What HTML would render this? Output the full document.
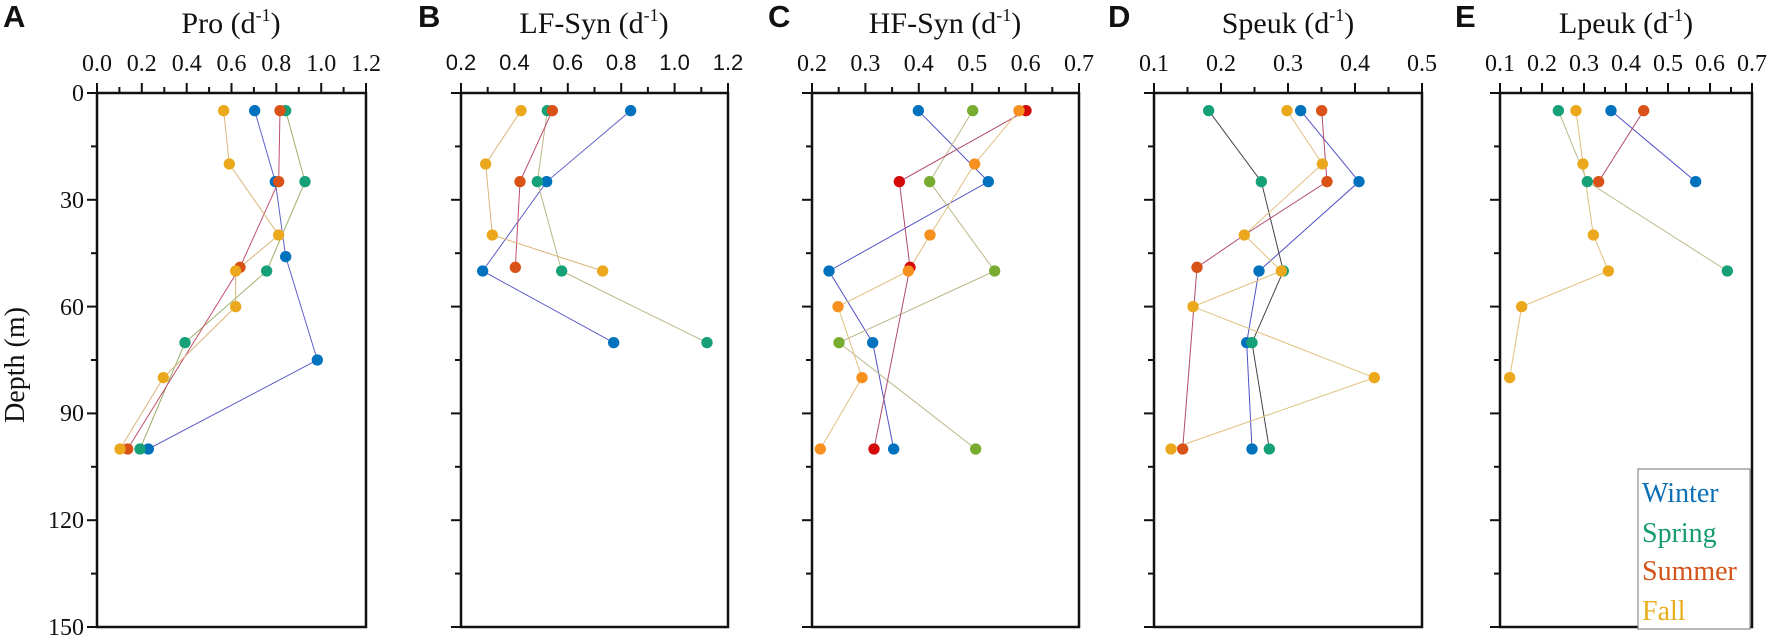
<!DOCTYPE html>
<html><head><meta charset="utf-8"><style>
html,body{margin:0;padding:0;background:#fff;}
svg{display:block;}
.t{font-family:"Liberation Serif",serif;font-size:24px;fill:#111;}
.ts{font-family:"Liberation Sans",sans-serif;font-size:22px;fill:#111;}
.ti{font-family:"Liberation Serif",serif;font-size:30px;fill:#111;}
.lt{font-family:"Liberation Sans",sans-serif;font-size:31px;font-weight:bold;fill:#111;}
.lg{font-family:"Liberation Serif",serif;font-size:28px;}
</style></head><body>
<svg width="1772" height="640" viewBox="0 0 1772 640" xmlns="http://www.w3.org/2000/svg">
<defs>
<g id="yt">
<line x1="0" y1="93" x2="-10" y2="93"/><line x1="0" y1="146.4" x2="-6" y2="146.4"/>
<line x1="0" y1="199.8" x2="-10" y2="199.8"/><line x1="0" y1="253.2" x2="-6" y2="253.2"/>
<line x1="0" y1="306.6" x2="-10" y2="306.6"/><line x1="0" y1="360" x2="-6" y2="360"/>
<line x1="0" y1="413.4" x2="-10" y2="413.4"/><line x1="0" y1="466.8" x2="-6" y2="466.8"/>
<line x1="0" y1="520.2" x2="-10" y2="520.2"/><line x1="0" y1="573.6" x2="-6" y2="573.6"/>
<line x1="0" y1="627" x2="-10" y2="627"/>
</g>
</defs>

<!-- Panel letters -->
<text class="lt" x="3" y="27">A</text>
<text class="lt" x="418" y="27">B</text>
<text class="lt" x="768" y="27">C</text>
<text class="lt" x="1108" y="27">D</text>
<text class="lt" x="1455" y="27">E</text>

<!-- Titles -->
<text class="ti" x="231" y="33" text-anchor="middle">Pro  (d<tspan font-size="18" dy="-12">-1</tspan><tspan dy="12">)</tspan></text>
<text class="ti" x="594" y="33" text-anchor="middle">LF-Syn (d<tspan font-size="18" dy="-12">-1</tspan><tspan dy="12">)</tspan></text>
<text class="ti" x="945" y="33" text-anchor="middle">HF-Syn (d<tspan font-size="18" dy="-12">-1</tspan><tspan dy="12">)</tspan></text>
<text class="ti" x="1288" y="33" text-anchor="middle">Speuk (d<tspan font-size="18" dy="-12">-1</tspan><tspan dy="12">)</tspan></text>
<text class="ti" x="1626" y="33" text-anchor="middle">Lpeuk  (d<tspan font-size="18" dy="-12">-1</tspan><tspan dy="12">)</tspan></text>

<!-- Y axis labels -->
<g class="t" text-anchor="end">
<text x="84" y="101">0</text><text x="84" y="208">30</text><text x="84" y="315">60</text>
<text x="84" y="421">90</text><text x="84" y="528">120</text><text x="84" y="635">150</text>
</g>
<text class="ti" font-size="28" transform="translate(24,365) rotate(-90)" text-anchor="middle" style="font-size:28px">Depth (m)</text>

<g stroke="#111" stroke-width="2">
<!-- frames -->
<rect x="97" y="93" width="269" height="534" fill="none" stroke-width="2.5"/>
<rect x="461" y="93" width="267" height="534" fill="none" stroke-width="2.5"/>
<rect x="812" y="93" width="267" height="534" fill="none" stroke-width="2.5"/>
<rect x="1154" y="93" width="268" height="534" fill="none" stroke-width="2.5"/>
<rect x="1500" y="93" width="252" height="534" fill="none" stroke-width="2.5"/>
<use href="#yt" x="97"/><use href="#yt" x="461"/><use href="#yt" x="812"/><use href="#yt" x="1154"/><use href="#yt" x="1500"/>
<!-- A x ticks 13 -->
<path d="M97 93v-10M119.4 93v-6M141.8 93v-10M164.3 93v-6M186.7 93v-10M209.1 93v-6M231.5 93v-10M253.9 93v-6M276.3 93v-10M298.8 93v-6M321.2 93v-10M343.6 93v-6M366 93v-10"/>
<!-- B 11 -->
<path d="M461 93v-10M487.7 93v-6M514.4 93v-10M541.1 93v-6M567.8 93v-10M594.5 93v-6M621.2 93v-10M647.9 93v-6M674.6 93v-10M701.3 93v-6M728 93v-10"/>
<!-- C 11 -->
<path d="M812 93v-10M838.7 93v-6M865.4 93v-10M892.1 93v-6M918.8 93v-10M945.5 93v-6M972.2 93v-10M998.9 93v-6M1025.6 93v-10M1052.3 93v-6M1079 93v-10"/>
<!-- D 9 -->
<path d="M1154 93v-10M1187.5 93v-6M1221 93v-10M1254.5 93v-6M1288 93v-10M1321.5 93v-6M1355 93v-10M1388.5 93v-6M1422 93v-10"/>
<!-- E 13 -->
<path d="M1500 93v-10M1521 93v-6M1542 93v-10M1563 93v-6M1584 93v-10M1605 93v-6M1626 93v-10M1647 93v-6M1668 93v-10M1689 93v-6M1710 93v-10M1731 93v-6M1752 93v-10"/>
</g>

<!-- X tick labels -->
<g class="t" text-anchor="middle">
<text x="97" y="71">0.0</text><text x="141.8" y="71">0.2</text><text x="186.7" y="71">0.4</text><text x="231.5" y="71">0.6</text><text x="276.3" y="71">0.8</text><text x="321.2" y="71">1.0</text><text x="366" y="71">1.2</text>
<text x="812" y="71">0.2</text><text x="865.4" y="71">0.3</text><text x="918.8" y="71">0.4</text><text x="972.2" y="71">0.5</text><text x="1025.6" y="71">0.6</text><text x="1079" y="71">0.7</text>
<text x="1154" y="71">0.1</text><text x="1221" y="71">0.2</text><text x="1288" y="71">0.3</text><text x="1355" y="71">0.4</text><text x="1422" y="71">0.5</text>
<text x="1500" y="71">0.1</text><text x="1542" y="71">0.2</text><text x="1584" y="71">0.3</text><text x="1626" y="71">0.4</text><text x="1668" y="71">0.5</text><text x="1710" y="71">0.6</text><text x="1752" y="71">0.7</text>
</g>
<g class="ts" text-anchor="middle">
<text x="461" y="70">0.2</text><text x="514.4" y="70">0.4</text><text x="567.8" y="70">0.6</text><text x="621.2" y="70">0.8</text><text x="674.6" y="70">1.0</text><text x="728" y="70">1.2</text>
</g>

<!-- Panel A data -->
<g transform="translate(90,90) scale(0.33333)" fill="none" stroke-width="3">
<polyline stroke="#6060c8" points="494,62 556,275 587,500 682,810 175,1077"/>
<polyline stroke="#9aae6a" points="587,62 645,275 530,543 285,758 150,1077"/>
<polyline stroke="#c0506a" points="570,62 566,275 450,532 113,1077"/>
<polyline stroke="#d8b47a" points="401,62 418,222 566,435 437,543 437,650 220,863 90,1077"/>
<g stroke="none">
<g fill="#0072BD"><circle cx="494" cy="62" r="17"/><circle cx="556" cy="275" r="17"/><circle cx="587" cy="500" r="17"/><circle cx="682" cy="810" r="17"/><circle cx="175" cy="1077" r="17"/></g>
<g fill="#16a078"><circle cx="587" cy="62" r="17"/><circle cx="645" cy="275" r="17"/><circle cx="530" cy="543" r="17"/><circle cx="285" cy="758" r="17"/><circle cx="150" cy="1077" r="17"/></g>
<g fill="#D95319"><circle cx="570" cy="62" r="17"/><circle cx="566" cy="275" r="17"/><circle cx="450" cy="532" r="17"/><circle cx="113" cy="1077" r="17"/></g>
<g fill="#EBA81C"><circle cx="401" cy="62" r="17"/><circle cx="418" cy="222" r="17"/><circle cx="566" cy="435" r="17"/><circle cx="437" cy="543" r="17"/><circle cx="437" cy="650" r="17"/><circle cx="220" cy="863" r="17"/><circle cx="90" cy="1077" r="17"/></g>
</g></g>

<!-- Panel B data -->
<g transform="translate(450,90) scale(0.33333)" fill="none" stroke-width="3">
<polyline stroke="#6060c8" points="542,62 290,275 98,543 491,758"/>
<polyline stroke="#bdb78a" points="292,62 262,275 335,543 771,758"/>
<polyline stroke="#c0506a" points="307,62 210,275 196,532"/>
<polyline stroke="#d8b47a" points="213,62 107,222 127,435 458,543"/>
<g stroke="none">
<g fill="#0072BD"><circle cx="542" cy="62" r="17"/><circle cx="290" cy="275" r="17"/><circle cx="98" cy="543" r="17"/><circle cx="491" cy="758" r="17"/></g>
<g fill="#16a078"><circle cx="292" cy="62" r="17"/><circle cx="262" cy="275" r="17"/><circle cx="335" cy="543" r="17"/><circle cx="771" cy="758" r="17"/></g>
<g fill="#D95319"><circle cx="307" cy="62" r="17"/><circle cx="210" cy="275" r="17"/><circle cx="196" cy="532" r="17"/></g>
<g fill="#EBA81C"><circle cx="213" cy="62" r="17"/><circle cx="107" cy="222" r="17"/><circle cx="127" cy="435" r="17"/><circle cx="458" cy="543" r="17"/></g>
</g></g>

<!-- Panel C data -->
<g transform="translate(800,90) scale(0.33333)" fill="none" stroke-width="3">
<polyline stroke="#5050c8" points="355,62 565,275 87,543 218,758 281,1077"/>
<polyline stroke="#bdb78a" points="518,62 389,275 584,543 117,758 527,1077"/>
<polyline stroke="#b04a70" points="678,62 298,275 330,532 222,1077"/>
<polyline stroke="#e0c080" points="657,62 524,222 390,435 325,543 114,650 186,863 61,1077"/>
<g stroke="none">
<g fill="#0072BD"><circle cx="355" cy="62" r="17"/><circle cx="565" cy="275" r="17"/><circle cx="87" cy="543" r="17"/><circle cx="218" cy="758" r="17"/><circle cx="281" cy="1077" r="17"/></g>
<g fill="#77AC30"><circle cx="518" cy="62" r="17"/><circle cx="389" cy="275" r="17"/><circle cx="584" cy="543" r="17"/><circle cx="117" cy="758" r="17"/><circle cx="527" cy="1077" r="17"/></g>
<g fill="#D40A0A"><circle cx="678" cy="62" r="17"/><circle cx="298" cy="275" r="17"/><circle cx="330" cy="532" r="17"/><circle cx="222" cy="1077" r="17"/></g>
<g fill="#F7901E"><circle cx="657" cy="62" r="17"/><circle cx="524" cy="222" r="17"/><circle cx="390" cy="435" r="17"/><circle cx="325" cy="543" r="17"/><circle cx="114" cy="650" r="17"/><circle cx="186" cy="863" r="17"/><circle cx="61" cy="1077" r="17"/></g>
</g></g>

<!-- Panel D data -->
<g transform="translate(1140,90) scale(0.33333)" fill="none" stroke-width="3">
<polyline stroke="#5050c8" points="482,62 657,275 357,543 320,758 336,1077"/>
<polyline stroke="#444" points="206,62 364,275 430,543 336,758 388,1077"/>
<polyline stroke="#b04a70" points="545,62 561,275 313,435 171,532 128,1077"/>
<polyline stroke="#e0c080" points="441,62 547,222 313,435 424,543 159,650 703,863 93,1077"/>
<g stroke="none">
<g fill="#0072BD"><circle cx="482" cy="62" r="17"/><circle cx="657" cy="275" r="17"/><circle cx="357" cy="543" r="17"/><circle cx="320" cy="758" r="17"/><circle cx="336" cy="1077" r="17"/></g>
<g fill="#16a078"><circle cx="206" cy="62" r="17"/><circle cx="364" cy="275" r="17"/><circle cx="430" cy="543" r="17"/><circle cx="336" cy="758" r="17"/><circle cx="388" cy="1077" r="17"/></g>
<g fill="#D95319"><circle cx="545" cy="62" r="17"/><circle cx="561" cy="275" r="17"/><circle cx="171" cy="532" r="17"/><circle cx="128" cy="1077" r="17"/></g>
<g fill="#EBA81C"><circle cx="441" cy="62" r="17"/><circle cx="547" cy="222" r="17"/><circle cx="313" cy="435" r="17"/><circle cx="424" cy="543" r="17"/><circle cx="159" cy="650" r="17"/><circle cx="703" cy="863" r="17"/><circle cx="93" cy="1077" r="17"/></g>
</g></g>

<!-- Panel E data -->
<g transform="translate(1490,90) scale(0.33333)" fill="none" stroke-width="3">
<polyline stroke="#5050c8" points="363,62 617,275"/>
<polyline stroke="#bdb78a" points="205,62 292,275 712,543"/>
<polyline stroke="#b04a70" points="461,62 326,275"/>
<polyline stroke="#e0c080" points="258,62 279,222 310,435 355,543 95,650 59,863"/>
<g stroke="none">
<g fill="#0072BD"><circle cx="363" cy="62" r="17"/><circle cx="617" cy="275" r="17"/></g>
<g fill="#16a078"><circle cx="205" cy="62" r="17"/><circle cx="292" cy="275" r="17"/><circle cx="712" cy="543" r="17"/></g>
<g fill="#D95319"><circle cx="461" cy="62" r="17"/><circle cx="326" cy="275" r="17"/></g>
<g fill="#EBA81C"><circle cx="258" cy="62" r="17"/><circle cx="279" cy="222" r="17"/><circle cx="310" cy="435" r="17"/><circle cx="355" cy="543" r="17"/><circle cx="95" cy="650" r="17"/><circle cx="59" cy="863" r="17"/></g>
</g></g>

<!-- Legend -->
<rect x="1638" y="469" width="112" height="160" fill="#fff" stroke="#888" stroke-width="1.2"/>
<text class="lg" x="1642" y="502" fill="#0b6fb5">Winter</text>
<text class="lg" x="1642" y="542" fill="#169a72">Spring</text>
<text class="lg" x="1642" y="580" fill="#d2541a">Summer</text>
<text class="lg" x="1642" y="620" fill="#e8ae1e">Fall</text>
</svg>
</body></html>
